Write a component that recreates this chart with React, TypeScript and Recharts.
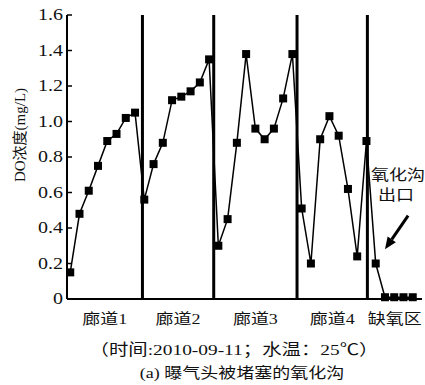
import {
  LineChart,
  Line,
  XAxis,
  YAxis,
  ReferenceLine,
} from 'recharts'

// DO readings per zone, in sampling order (mg/L)
const corridor1 = [0.15, 0.48, 0.61, 0.75, 0.89, 0.93, 1.02, 1.05]
const corridor2 = [0.56, 0.76, 0.88, 1.12, 1.14, 1.17, 1.22, 1.35]
const corridor3 = [0.3, 0.45, 0.88, 1.38, 0.96, 0.9, 0.96, 1.13, 1.38]
const corridor4 = [0.51, 0.2, 0.9, 1.03, 0.92, 0.62, 0.24]
const anoxic = [0.89, 0.2, 0.01, 0.01, 0.01, 0.01]

const zoneNames = ['廊道1', '廊道2', '廊道3', '廊道4', '缺氧区']
// zone walls, in sample-position units
const boundaries = [7.8, 15.5, 24.5, 32.1]
const yTicks = [0, 0.2, 0.4, 0.6, 0.8, 1.0, 1.2, 1.4, 1.6]

const xMin = -0.35
const xMax = 38

const chartData = [...corridor1, ...corridor2, ...corridor3, ...corridor4, ...anoxic].map(
  (v, i) => ({ pos: i, value: v })
)

const edges = [xMin, ...boundaries, xMax]
const zoneMids = zoneNames.map((_, i) => (edges[i] + edges[i + 1]) / 2)

const serif = '"Liberation Serif", "Noto Sans CJK SC", serif'

function SquareDot(props: any) {
  const { cx, cy, index } = props
  if (cx == null || cy == null) return null
  return <rect key={index} x={cx - 4} y={cy - 4} width={8} height={8} fill="#000" />
}

function XTick(props: any) {
  const { x, y, index } = props
  return (
    <g transform={`translate(${x},${y})`}>
      <text transform="scale(1.2,1)" textAnchor="middle" dy={12} fontSize={15} fontFamily={serif} fill="#111">
        {zoneNames[index] ?? ''}
      </text>
    </g>
  )
}

function YTick(props: any) {
  const { x, y, payload } = props
  const v = payload.value as number
  return (
    <g transform={`translate(${x},${y})`}>
      <text transform="scale(1.25,1)" textAnchor="end" dy={5} fontSize={16} fontFamily={serif} fill="#111">
        {v === 0 ? '0' : v.toFixed(1)}
      </text>
    </g>
  )
}

function Arrow(props: any) {
  const { x1, y1, x2, y2 } = props
  const ang = Math.atan2(y2 - y1, x2 - x1)
  const len = 12
  const w = 5
  const bx = x2 - len * Math.cos(ang)
  const by = y2 - len * Math.sin(ang)
  const px = -Math.sin(ang) * w
  const py = Math.cos(ang) * w
  return (
    <g>
      <line x1={x1} y1={y1} x2={bx} y2={by} stroke="#000" strokeWidth={3} />
      <polygon points={`${x2},${y2} ${bx + px},${by + py} ${bx - px},${by - py}`} fill="#000" />
    </g>
  )
}

const textStyle: React.CSSProperties = {
  position: 'absolute',
  fontFamily: serif,
  color: '#111',
  whiteSpace: 'nowrap',
  lineHeight: 1,
}

export default function App() {
  return (
    <div style={{ position: 'absolute', left: 0, top: 0, width: 425, height: 385, background: '#fff' }}>
      <LineChart
        width={425}
        height={385}
        data={chartData}
        margin={{ top: 15, right: 3, left: 0, bottom: 56 }}
      >
        <XAxis
          dataKey="pos"
          type="number"
          domain={[xMin, xMax]}
          ticks={zoneMids}
          tick={<XTick />}
          tickLine={false}
          tickMargin={7}
          axisLine={{ stroke: '#000', strokeWidth: 2 }}
          height={30}
          allowDataOverflow
        />
        <YAxis
          domain={[0, 1.6]}
          ticks={yTicks}
          tick={<YTick />}
          tickSize={-5}
          tickMargin={9}
          tickLine={{ stroke: '#000', strokeWidth: 1.5 }}
          axisLine={{ stroke: '#000', strokeWidth: 2 }}
          width={67}
        />
        {boundaries.map(b => (
          <ReferenceLine key={b} x={b} stroke="#000" strokeWidth={3} />
        ))}
        <ReferenceLine
          segment={[
            { x: 36.5, y: 0.47 },
            { x: 34.0, y: 0.28 },
          ]}
          shape={<Arrow />}
        />
        <Line
          type="linear"
          dataKey="value"
          stroke="#000"
          strokeWidth={1.5}
          dot={<SquareDot />}
          activeDot={false}
          isAnimationActive={false}
        />
      </LineChart>
      <div
        style={{
          ...textStyle,
          fontSize: 15,
          left: 20,
          top: 135,
          transform: 'translate(-50%,-50%) rotate(-90deg)',
        }}
      >
        DO浓度(mg/L)
      </div>
      <div style={{ ...textStyle, fontSize: 15, left: 398, top: 175, transform: 'translate(-50%,-50%) scaleX(1.2)' }}>
        氧化沟
      </div>
      <div style={{ ...textStyle, fontSize: 15, left: 396, top: 195, transform: 'translate(-50%,-50%) scaleX(1.2)' }}>
        出口
      </div>
      <div style={{ ...textStyle, fontSize: 15.5, left: 234, top: 350, transform: 'translate(-50%,-50%) scaleX(1.25)' }}>
        （时间:2010-09-11；水温：25℃）
      </div>
      <div style={{ ...textStyle, fontSize: 15, left: 242, top: 373, transform: 'translate(-50%,-50%) scaleX(1.2)' }}>
        (a) 曝气头被堵塞的氧化沟
      </div>
    </div>
  )
}
